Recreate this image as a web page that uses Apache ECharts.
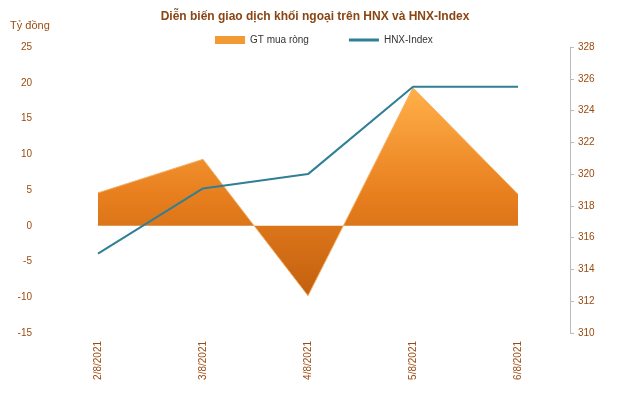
<!DOCTYPE html>
<html><head><meta charset="utf-8">
<script src="https://cdn.jsdelivr.net/npm/echarts@6/dist/echarts.min.js"></script>
<style>html,body{margin:0;padding:0;background:#fff}#c{width:630px;height:419px}</style>
</head><body><div id="c"></div>
<script>
const categories = ['2/8/2021','3/8/2021','4/8/2021','5/8/2021','6/8/2021'];
const netBuy = [4.6, 9.3, -9.8, 19.3, 4.4];
const hnxIndex = [315.0, 319.1, 320.0, 325.5, 325.5];
const labelColor = '#9c4a10';
const chart = echarts.init(document.getElementById('c'));
chart.setOption({
  animation: false,
  title: {text: 'Diễn biến giao dịch khối ngoại trên HNX và HNX-Index', left: 'center', top: 6,
    textStyle: {fontSize: 12, fontWeight: 'bold', color: '#8a4513', fontFamily: 'Liberation Sans'}},
  legend: {top: 30, left: 210, itemGap: 40, itemWidth: 30, itemHeight: 8,
    textStyle: {fontSize: 10, color: '#333', fontFamily: 'Liberation Sans'},
    data: [{name: 'GT mua ròng', icon: 'rect'}, {name: 'HNX-Index', icon: 'path://M0,0H10V1H0Z'}]},
  graphic: [{type: 'text', left: 10, top: 20, style: {text: 'Tỷ đồng', fill: labelColor, font: '11px Liberation Sans'}}],
  grid: {left: 98, right: 112, top: 47, bottom: 86},
  xAxis: {type: 'category', data: categories, boundaryGap: false,
    axisLine: {show: false}, axisTick: {show: false},
    axisLabel: {rotate: 90, color: labelColor, fontSize: 10, margin: 8, fontFamily: 'Liberation Sans'}},
  yAxis: [
    {type: 'value', min: -15, max: 25, interval: 5, position: 'left', offset: 58,
     splitLine: {show: false}, axisLine: {show: false}, axisTick: {show: false},
     axisLabel: {color: labelColor, fontSize: 10, fontFamily: 'Liberation Sans'}},
    {type: 'value', min: 310, max: 328, interval: 2, position: 'right', offset: 52,
     splitLine: {show: false}, axisLine: {show: true, lineStyle: {color: '#bbb'}}, axisTick: {show: true, length: 4, inside: false},
     axisLabel: {color: labelColor, fontSize: 10, fontFamily: 'Liberation Sans'}}
  ],
  series: [
    {name: 'GT mua ròng', type: 'line', data: netBuy, yAxisIndex: 0, symbol: 'none',
     lineStyle: {width: 1, color: '#f3b26a'},
     itemStyle: {color: '#f29a33'},
     areaStyle: {opacity: 1, color: new echarts.graphic.LinearGradient(0,0,0,1,[
       {offset: 0, color: '#ffb04a'}, {offset: 0.5, color: '#e9801f'}, {offset: 1, color: '#c2600f'}])}},
    {name: 'HNX-Index', type: 'line', data: hnxIndex, yAxisIndex: 1, symbol: 'none',
     lineStyle: {width: 2, color: '#2f7f95'}, itemStyle: {color: '#2f7f95'}}
  ]
});
</script></body></html>
